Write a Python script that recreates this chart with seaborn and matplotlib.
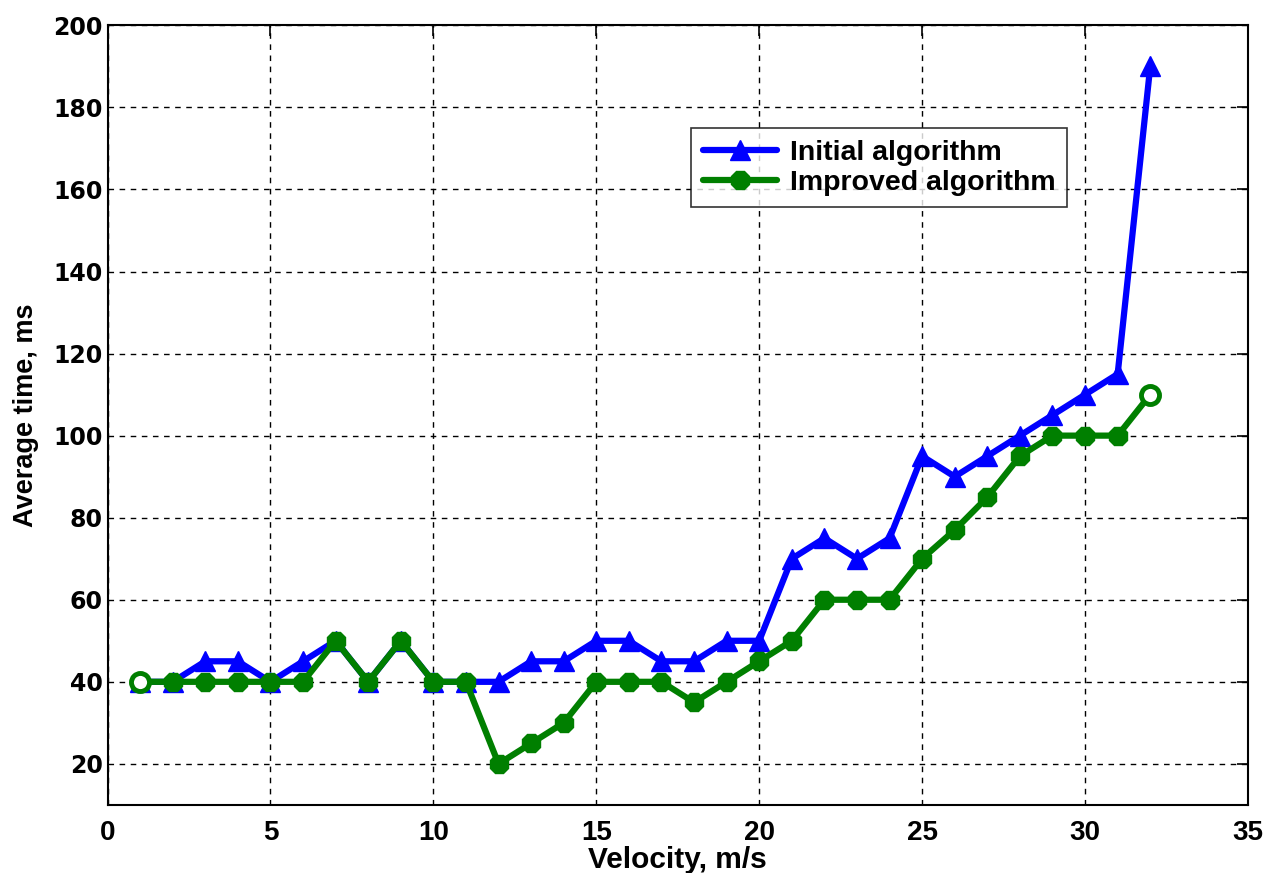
import numpy as np
import pandas as pd
import matplotlib
matplotlib.use('Agg')
import matplotlib.pyplot as plt
import seaborn as sns

velocity = list(range(1, 33))
initial_time = [40, 40, 45, 45, 40, 45, 50, 40, 50, 40, 40, 40, 45, 45, 50, 50,
                45, 45, 50, 50, 70, 75, 70, 75, 95, 90, 95, 100, 105, 110, 115, 190]
improved_time = [40, 40, 40, 40, 40, 40, 50, 40, 50, 40, 40, 20, 25, 30, 40, 40,
                 40, 35, 40, 45, 50, 60, 60, 60, 70, 77, 85, 95, 100, 100, 100, 110]
labels = ['Initial algorithm', 'Improved algorithm']

df = pd.DataFrame({
    'Velocity': velocity * 2,
    'Time': initial_time + improved_time,
    'Algorithm': [labels[0]] * len(velocity) + [labels[1]] * len(velocity),
})

sns.set_style('white', {'text.color': 'black', 'axes.labelcolor': 'black',
                        'xtick.color': 'black', 'ytick.color': 'black'})
plt.rcParams['font.family'] = ['Liberation Sans', 'DejaVu Sans']

fig = plt.figure(figsize=(12.8, 8.73), dpi=100)
ax = fig.add_axes([0.084, 0.078, 0.891, 0.893])

blue, green = '#0000ff', '#007f00'
sns.lineplot(data=df, x='Velocity', y='Time', hue='Algorithm', style='Algorithm',
             palette={labels[0]: blue, labels[1]: green},
             markers={labels[0]: '^', labels[1]: '8'}, dashes=False,
             linewidth=4.5, markersize=15, markeredgewidth=1, ax=ax)
for ln in ax.lines:
    ln.set_markeredgecolor(ln.get_color())
    if ln.get_marker() == '8':
        ln.set_markersize(14)
# first and last points of improved series drawn hollow, as in the original
ax.plot([velocity[0], velocity[-1]], [improved_time[0], improved_time[-1]], 'o',
        ms=13, mfc='white', mec=green, mew=3.5, zorder=5)

ax.set_xlim(0, 35)
ax.set_ylim(10, 200)
ax.set_xticks(range(0, 36, 5))
ax.set_yticks(range(20, 201, 20))
ax.grid(True, color='black', linestyle=(0, (4, 4)), linewidth=1)
ax.tick_params(direction='in', top=True, right=True, length=8, width=1.2,
               colors='black')
for t in ax.get_xticklabels():
    t.set_fontweight('bold')
    t.set_fontsize(20)
ax.tick_params(axis='x', pad=11)
for t in ax.get_yticklabels():
    t.set_fontfamily('DejaVu Sans')
    t.set_fontweight('bold')
    t.set_fontsize(17)
for s in ax.spines.values():
    s.set_linewidth(1.5)
    s.set_color('black')

ax.set_xlabel('Velocity, m/s', fontsize=21.5, fontweight='bold', labelpad=0)
ax.set_ylabel('Average time, ms', fontsize=19.5, fontweight='bold', labelpad=10)

leg = ax.legend(loc='upper left', bbox_to_anchor=(0.512, 0.868),
                prop={'size': 20.5, 'weight': 'bold'},
                frameon=True, fancybox=False, edgecolor='black', handlelength=2.6,
                handletextpad=0.45, borderpad=0.4, labelspacing=0.15, borderaxespad=0)
leg.get_frame().set_linewidth(1.2)

fig.savefig('out.png', dpi=100)
